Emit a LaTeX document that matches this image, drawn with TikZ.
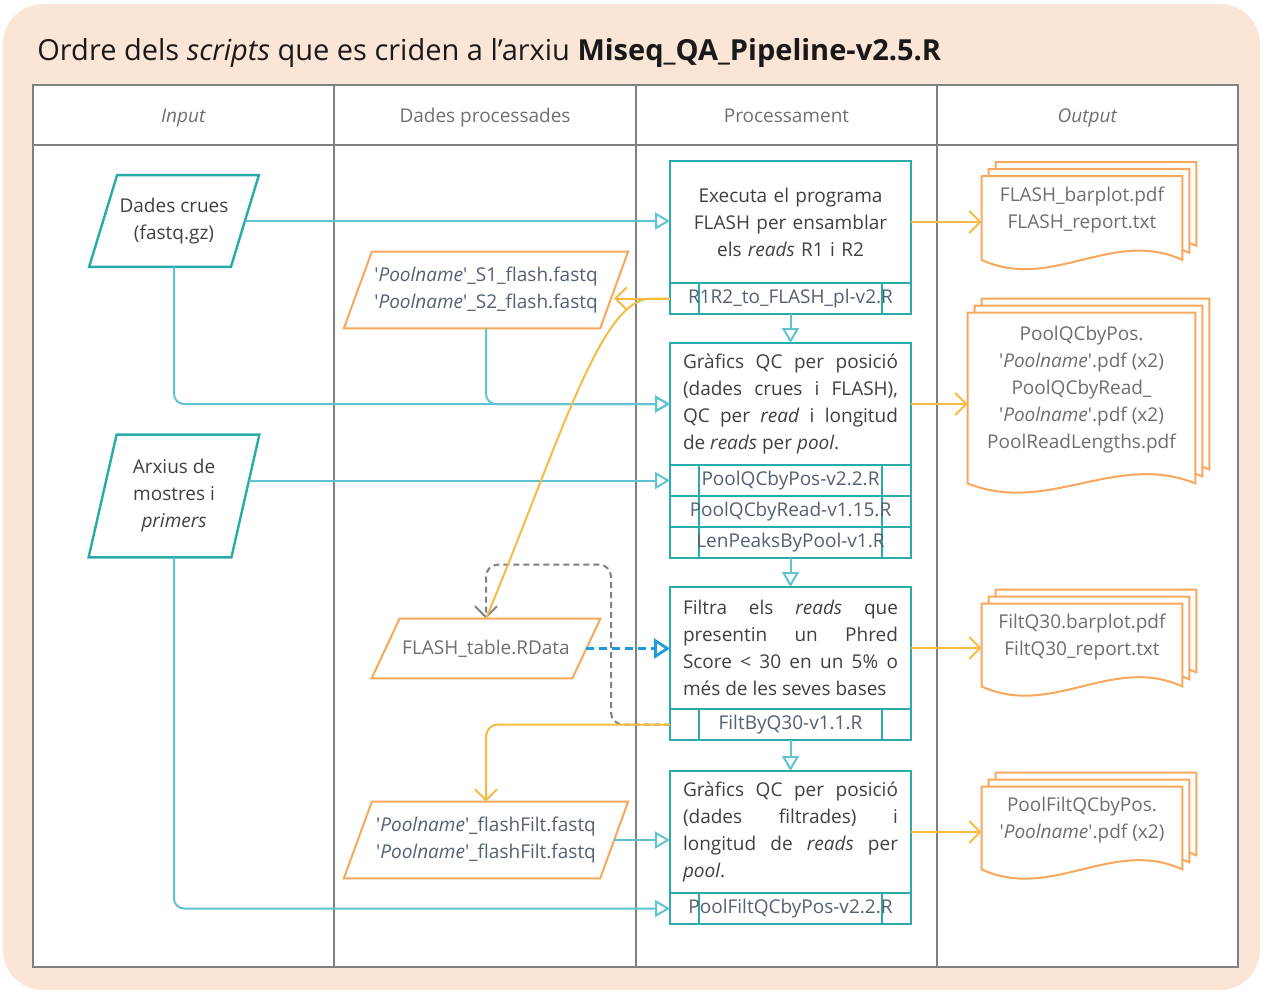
\documentclass[tikz,border=0pt]{standalone}
\usepackage{fontspec}
\setmainfont{Open Sans}
\usetikzlibrary{arrows.meta,positioning,calc}

\definecolor{peach}{RGB}{251,229,214}
\definecolor{framegray}{RGB}{128,128,128}
\definecolor{headgray}{RGB}{112,112,112}
\definecolor{tealbox}{RGB}{40,172,170}
\definecolor{tealline}{RGB}{95,196,208}
\definecolor{orangebox}{RGB}{247,168,92}
\definecolor{orangeline}{RGB}{246,187,66}
\definecolor{bluedash}{RGB}{30,155,222}
\definecolor{textdark}{RGB}{64,64,64}
\definecolor{textslate}{RGB}{84,96,116}
\definecolor{textgray}{RGB}{110,110,110}

\pgfdeclarelayer{background}
\pgfdeclarelayer{pages}
\pgfsetlayers{background,pages,main}

\newcommand{\pname}{\textquotesingle\emph{Poolname}\textquotesingle}
% parallelogram round a named node
\newcommand{\slantbox}[2]{\filldraw[#2] ([xshift=-7pt]#1.south west) -- ([xshift=7pt]#1.north west)
  -- ([xshift=7pt]#1.north east) -- ([xshift=-7pt]#1.south east) -- cycle;}
% stack of three pages behind a named node
\newcommand{\docstack}[2]{%
  \foreach \k in {14,7,0}{%
    \filldraw[docpage] ([shift={(\k,-\k)}]#1.north west) -- ([shift={(\k,-\k)}]#1.north east)
      -- ([shift={(\k,16-\k)}]#1.south east)
      .. controls +(-#2,-32) and +(#2,32) .. ([shift={(\k,16-\k)}]#1.south west) -- cycle;}}

\tikzset{
  every node/.style={font=\fontsize{9.5}{13.5}\selectfont},
  title/.style={font=\fontsize{14.5}{16}\selectfont, text=black!90, anchor=base west, inner sep=0pt},
  header/.style={text=headgray, anchor=base},
  tableframe/.style={draw=framegray, line width=1pt, fill=white},
  procbox/.style={draw=tealbox, line width=1.2pt, fill=white, text=textdark,
    text width=107.5pt, inner xsep=6.5pt, minimum height=61pt, outer sep=0pt},
  scriptrow/.style={draw=tealbox, line width=1.2pt, fill=white, text=textslate,
    minimum width=120.5pt, minimum height=15.5pt, inner sep=0pt, outer sep=0pt,
    path picture={\draw[tealbox, line width=1.2pt]
      ([xshift=14.5pt]path picture bounding box.north west) -- ([xshift=14.5pt]path picture bounding box.south west)
      ([xshift=-14.5pt]path picture bounding box.north east) -- ([xshift=-14.5pt]path picture bounding box.south east);}},
  databox/.style={inner sep=0pt, align=center},
  tealslant/.style={draw=tealbox, line width=1.2pt, fill=white},
  orangeslant/.style={draw=orangebox, line width=1pt, fill=white},
  docbox/.style={inner sep=0pt, align=center, text=textgray},
  docpage/.style={draw=orangebox, line width=1pt, fill=white},
  tealarrow/.style={draw=tealline, line width=1pt, rounded corners=5pt,
    -{Triangle[open, length=7.5pt, width=8.5pt]}},
  orangearrow/.style={draw=orangeline, line width=1pt, rounded corners=6pt,
    -{Straight Barb[length=5.5pt, width=11pt]}},
  grayarrow/.style={draw=framegray, line width=1pt, dash pattern=on 3pt off 2pt,
    rounded corners=6pt, -{Straight Barb[length=5.5pt, width=11pt]}},
  bluearrow/.style={draw=bluedash, line width=1.4pt, dash pattern=on 4pt off 2.5pt,
    -{Triangle[open, length=8pt, width=10pt]}}
}

\begin{document}
\begin{tikzpicture}[x=0.5pt,y=-0.5pt]
\useasboundingbox (0,0) rectangle (1263,991);
\begin{pgfonlayer}{background}
  \fill[peach, rounded corners=20pt] (3,4) rectangle (1260,990);
  \path[tableframe] (33,85) rectangle (1238,967);
  \draw[tableframe] (33,145) -- (1238,145);
  \foreach \x in {334,636,937} \draw[tableframe] (\x,85) -- (\x,967);
\end{pgfonlayer}

\node[title] (title) at (37,60) {Ordre dels \emph{scripts} que es criden a l’arxiu \textbf{Miseq\_QA\_Pipeline-v2.5.R}};

\node[header] (hin) at (183.5,122) {\emph{Input}};
\node[header] (hdata) at (485,122) {Dades processades};
\node[header] (hproc) at (786.5,122) {Processament};
\node[header] (hout) at (1087.5,122) {\emph{Output}};

% input data
\node[databox, text=textdark, minimum width=70.5pt, minimum height=45.5pt] (dc) at (174,221) {Dades crues\\(fastq.gz)};
\node[databox, text=textdark, minimum width=71pt, minimum height=61pt] (arx) at (174,496) {Arxius de\\mostres i\\\emph{primers}};

% processed data
\node[databox, text=textslate, minimum width=127.75pt, minimum height=38pt] (s12) at (486,290)
  {\pname\_S1\_flash.fastq\\\pname\_S2\_flash.fastq};
\node[databox, text=textgray, minimum width=100pt, minimum height=29.5pt] (ft) at (486,648.5) {FLASH\_table.RData};
\node[databox, text=textslate, minimum width=127.75pt, minimum height=38pt] (ff) at (486,840)
  {\pname\_flashFilt.fastq\\\pname\_flashFilt.fastq};

% processing steps
\node[procbox, align=center] (b1) at (790.5,222) {Executa el programa\\FLASH per ensamblar\\els \emph{reads} R1 i R2};
\node[scriptrow, below=0pt of b1] (r1) {R1R2\_to\_FLASH\_pl-v2.R};

\node[procbox, align=justify] (b2) at (790.5,404) {Gràfics QC per posició\linebreak
  (dades crues i FLASH),\linebreak QC per \emph{read} i longitud\linebreak de \emph{reads} per \emph{pool}.};
\node[scriptrow, below=0pt of b2] (pq1) {PoolQCbyPos-v2.2.R};
\node[scriptrow, below=0pt of pq1] (pq2) {PoolQCbyRead-v1.15.R};
\node[scriptrow, below=0pt of pq2] (lp) {LenPeaksByPool-v1.R};

\node[procbox, align=justify] (b3) at (790.5,648) {Filtra els \emph{reads} que\linebreak
  presentin un Phred\linebreak Score < 30 en un 5\% o\linebreak més de les seves bases};
\node[scriptrow, below=0pt of b3] (r3) {FiltByQ30-v1.1.R};

\node[procbox, align=justify] (b4) at (790.5,832) {Gràfics QC per posició\linebreak
  (dades filtrades) i\linebreak longitud de \emph{reads} per\linebreak \emph{pool}.};
\node[scriptrow, below=0pt of b4] (pf) {PoolFiltQCbyPos-v2.2.R};

% outputs
\node[docbox, minimum width=100pt, minimum height=33.5pt] (out1) at (1082,210) {FLASH\_barplot.pdf\\FLASH\_report.txt};
\node[docbox, minimum width=113.5pt, minimum height=77pt] (out2) at (1081.5,390)
  {PoolQCbyPos.\\\pname.pdf (x2)\\PoolQCbyRead\_\\\pname.pdf (x2)\\PoolReadLengths.pdf};
\node[docbox, minimum width=100pt, minimum height=33pt] (out3) at (1082,637) {FiltQ30.barplot.pdf\\FiltQ30\_report.txt};
\node[docbox, minimum width=100pt, minimum height=33pt] (out4) at (1082,820) {PoolFiltQCbyPos.\\\pname.pdf (x2)};

\begin{pgfonlayer}{pages}
  \slantbox{dc}{tealslant}
  \slantbox{arx}{tealslant}
  \slantbox{s12}{orangeslant}
  \slantbox{ft}{orangeslant}
  \slantbox{ff}{orangeslant}
  \docstack{out1}{70}
  \docstack{out2}{80}
  \docstack{out3}{70}
  \docstack{out4}{70}
\end{pgfonlayer}

% connectors
\draw[tealarrow] (dc.east) -- (dc.east -| b1.west);
\draw[tealarrow] (dc.south) |- (b2.west);
\draw[tealarrow] (s12.south) |- (b2.west);
\draw[tealarrow] ([xshift=2pt]arx.east |- pq1.west) -- (pq1.west);
\draw[tealarrow] (arx.south) |- (pf.west);
\draw[tealarrow] (ff.east) -- (ff.east -| b4.west);
\draw[tealarrow] (r1.south) -- (b2.north);
\draw[tealarrow] (lp.south) -- (b3.north);
\draw[tealarrow] (r3.south) -- (b4.north);

\draw[grayarrow] (r3.west) -- ++(-59,0) |- ($(ft.north)+(0,-54)$) -- (ft.north);
\draw[orangeline, line width=1pt] (r1.west) -- ++(-20,0) .. controls +(-50,2) and +(74,-178) .. (ft.north);
\draw[orangearrow] (r1.west) -- (r1.west -| s12.east);
\draw[orangearrow] (r3.west) -| (ff.north);
\draw[bluearrow] (ft.east) -- (ft.east -| b3.west);

\draw[orangearrow] (b1.east) -- (b1.east -| out1.west);
\draw[orangearrow] (b2.east) -- (b2.east -| out2.west);
\draw[orangearrow] (b3.east) -- (b3.east -| out3.west);
\draw[orangearrow] (b4.east) -- (b4.east -| out4.west);
\end{tikzpicture}
\end{document}
